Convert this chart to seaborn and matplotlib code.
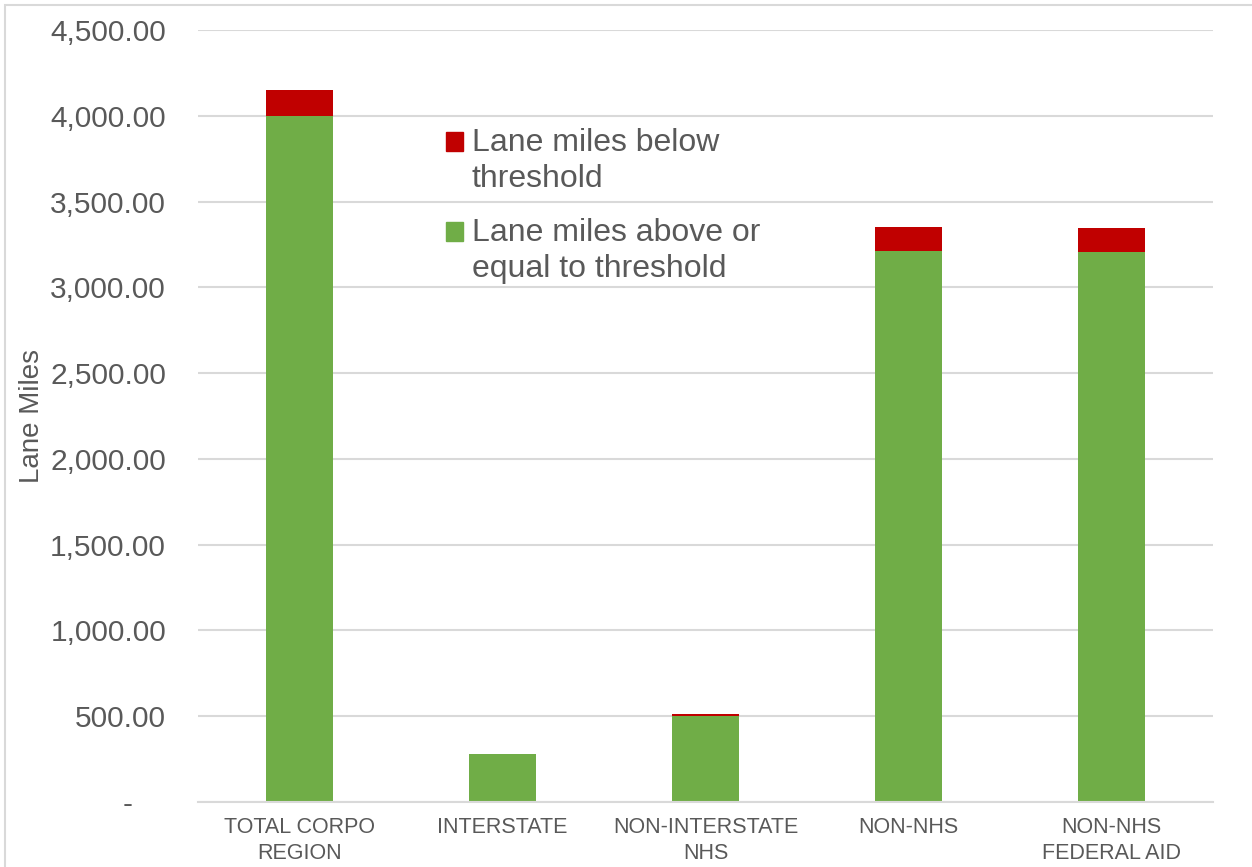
import matplotlib
matplotlib.use("Agg")
import matplotlib.pyplot as plt
import matplotlib.ticker as mticker
from matplotlib.legend_handler import HandlerPatch
from matplotlib.patches import Patch, Rectangle
import pandas as pd
import seaborn as sns

categories = ["TOTAL CORPO\nREGION", "INTERSTATE", "NON-INTERSTATE\nNHS", "NON-NHS", "NON-NHS\nFEDERAL AID"]
above = [4000, 280, 500, 3210, 3205]
below = [152, 0, 12, 140, 140]
series_names = ["Lane miles below\nthreshold", "Lane miles above or\nequal to threshold"]
y_ticks = [0, 500, 1000, 1500, 2000, 2500, 3000, 3500, 4000, 4500]

GREEN = "#70ad47"
RED = "#c00000"
TEXT = "#595959"
GRID = "#d9d9d9"


class TopAlignedPatch(HandlerPatch):
    """Put the legend square next to the first text line instead of centred"""

    def _create_patch(self, legend, orig_handle, xdescent, ydescent, width, height, fontsize):
        return Rectangle((-xdescent, -ydescent + 0.62 * fontsize), width, height)


df = pd.DataFrame({"cat": categories, "above": above, "below": below})
df["total"] = df["above"] + df["below"]

sns.set_theme(style="white")
plt.rcParams["font.family"] = ["Liberation Sans", "DejaVu Sans"]

fig = plt.figure(figsize=(12.52, 8.67), dpi=100)
ax = fig.add_axes([198 / 1252, 65 / 867, 1015 / 1252, 772 / 867])

# stacked bars: total in red, green drawn over it
sns.barplot(data=df, x="cat", y="total", color=RED, width=0.33, saturation=1,
            linewidth=0, ax=ax)
sns.barplot(data=df, x="cat", y="above", color=GREEN, width=0.33, saturation=1,
            linewidth=0, ax=ax)

ax.set_ylim(0, 4500)
ax.set_xlim(-0.5, len(categories) - 0.5)
ax.set_yticks(y_ticks)
ax.yaxis.set_major_formatter(mticker.FuncFormatter(
    lambda v, p: "-    " if v == 0 else format(v, ",.2f")))
ax.grid(axis="y", color=GRID, linewidth=1.5)
ax.set_axisbelow(True)

for side in ["top", "right", "left"]:
    ax.spines[side].set_visible(False)
ax.spines["bottom"].set_color(GRID)
ax.spines["bottom"].set_linewidth(1.5)

ax.tick_params(axis="y", length=0, pad=23, labelsize=21.5, labelcolor=TEXT)
ax.tick_params(axis="x", length=0, pad=11, labelsize=15.5, labelcolor=TEXT)
for lbl in ax.get_xticklabels():
    lbl.set_linespacing(1.3)

ax.set_xlabel("")
ax.set_ylabel("Lane Miles", fontsize=20, color=TEXT, labelpad=4)

handles = [Patch(color=RED), Patch(color=GREEN)]
leg = ax.legend(handles, series_names, loc="upper left", bbox_to_anchor=(0.216, 0.91),
                frameon=False, fontsize=23, labelcolor=TEXT, handlelength=0.52,
                handleheight=0.52, handletextpad=0.28, labelspacing=0.74,
                handler_map={Patch: TopAlignedPatch()})
for t in leg.get_texts():
    t.set_linespacing(1.27)

# light frame around the chart area
fig.patches.append(Rectangle((5 / 1252, -0.1), 1.2, 862 / 867 + 0.1, transform=fig.transFigure,
                             fill=False, edgecolor=GRID, linewidth=1.5))

fig.savefig("out.png", dpi=100)
